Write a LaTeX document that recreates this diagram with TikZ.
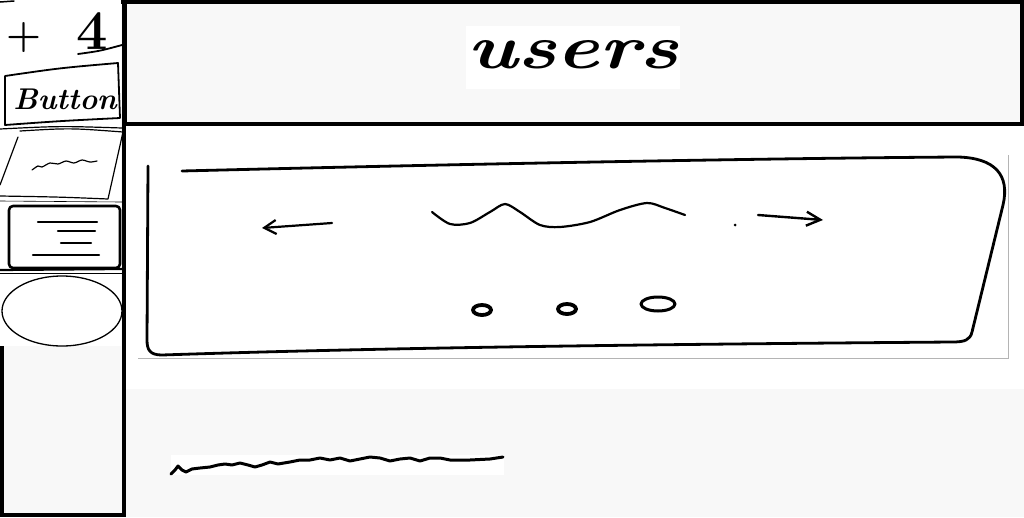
\documentclass[tikz,border=0pt]{standalone}
\usetikzlibrary{positioning,arrows.meta,calc}
\definecolor{paper}{HTML}{F8F8F8}
\definecolor{ink}{HTML}{000000}
\definecolor{edge}{HTML}{B4B4B4}
\tikzset{
  panel/.style={fill=paper,outer sep=0pt,inner sep=0pt},
  sheet/.style={fill=white,outer sep=0pt,inner sep=0pt},
  pen/.style={draw=ink,line width=#1,line cap=round,line join=round},
  pen/.default=1.4pt,
  hand/.style={text=ink,inner sep=0pt,font=\itshape}
}

\begin{document}
\begin{tikzpicture}[x=1pt,y=-1pt]
\useasboundingbox (0,0) rectangle (1024,517);
\fill[white] (0,0) rectangle (1024,517);
% frames
\node[panel,draw=ink,line width=4pt,minimum width=122pt,minimum height=513pt] (sidebar) at (63,258.5){};
\node[panel,draw=ink,line width=4pt,minimum width=897pt,minimum height=122pt] (header) at (573.5,63){};
\node[sheet,minimum width=121pt,minimum height=346pt] (palette) at (60.5,173){};
\node[sheet,minimum width=214pt,minimum height=63pt] (titlebox) at (573,57.5){};
\node[hand,font=\fontsize{62}{62}\selectfont\itshape\bfseries] (title) at (573,55){\scalebox{1.3}[1]{users}};
\node[sheet,minimum width=870pt,minimum height=203pt] (canvas) at (573,256.5){};
\draw[edge,line width=1pt] (canvas.north east)--(canvas.south east)--(canvas.south west);
\node[panel,minimum width=898pt,minimum height=128pt] (footer) at (575,453){};
\node[sheet,minimum width=333pt,minimum height=20pt] (strip) at (337.5,465){};
% palette sketches
\draw[pen=1.5pt] (0,2)--(14,1);
\node[hand,font=\fontsize{40}{40}\selectfont\bfseries] (plus) at (24,38){+};
\node[hand,font=\fontsize{56}{56}\selectfont\bfseries] (four) at (92,31){4};
\draw[pen=1.8pt] (78,54) .. controls (100,51) .. (122,45);
\draw[pen=1.8pt] (5,76) .. controls (60,68) .. (118,63) -- (120,118) .. controls (60,121) .. (5,125) -- cycle;
\node[hand,font=\fontsize{30}{30}\selectfont\itshape\bfseries] (button) at (65,99){Button};
\draw[pen=1.2pt] (0,129) .. controls (60,126) .. (122,128);
\draw[pen=1.2pt] (20,131) .. controls (70,128) .. (123,132) -- (108,199) .. controls (60,197) .. (0,196);
\draw[pen=1.2pt] (18,137)--(0,185);
\draw[pen=1.2pt] plot[smooth] coordinates {(32,170) (38,166) (42,167) (50,163) (58,164) (66,161) (74,163) (82,160) (90,162) (97,161)};
\draw[pen=0.6pt] (0,201)--(122,202);
\draw[pen=2.6pt,rounded corners=4pt] (9,206) rectangle (120,268);
\draw[pen=2.2pt] (0,270)--(122,269);
\draw[pen=0.6pt] (0,273)--(122,273);
\foreach \ya/\xa/\xb in {222/38/97, 231/58/95, 243/61/91, 255/33/99}
  \draw[pen=2.2pt] (\xa,\ya)--(\xb,\ya);
\draw[pen=1.3pt] (62,311) ellipse [x radius=60, y radius=35];
% canvas sketch
\draw[pen=2.8pt] (182,171) .. controls (500,163) and (800,158) .. (958,157) .. controls (995,158) and (1010,175) .. (1003,205) -- (972,332) .. controls (970,340) and (965,342) .. (952,342) .. controls (700,344) and (400,347) .. (162,355) .. controls (150,355) and (147,350) .. (147,340) -- (148,166);
\coordinate (lefttail) at (332,223);
\coordinate (lefthead) at (262,228);
\draw[pen=2.2pt,-{Straight Barb[length=12pt,width=14pt]}] (lefttail)--(lefthead);
\draw[pen=2.2pt] plot[smooth] coordinates {(432,212) (450,224) (470,223) (490,212) (505,204) (520,212) (540,225) (560,227) (590,222) (620,210) (647,203) (665,208) (685,215)};
\fill[ink] (735,225) circle (1.5pt);
\coordinate (righttail) at (758,215);
\coordinate (righthead) at (823,220);
\draw[pen=2.4pt,-{Straight Barb[length=14pt,width=14pt]}] (righttail)--(righthead);
\draw[pen=3.8pt] (482,310) ellipse [x radius=9, y radius=5];
\draw[pen=3.8pt] (567,309) ellipse [x radius=9, y radius=5];
\draw[pen=3pt] (658,304) ellipse [x radius=17, y radius=7];
% footer squiggle
\draw[pen=3pt] plot coordinates {(171,474) (175,470) (178,466) (182,470) (186,472) (192,469) (200,468) (210,467) (218,465) (225,464) (232,465) (240,463) (248,465) (255,467) (262,465) (270,462) (278,464) (290,462) (300,460) (310,460) (320,458) (330,460) (340,458) (350,461) (360,459) (370,457) (380,458) (390,461) (400,459) (410,458) (420,461) (430,458) (440,458) (450,460) (470,460) (490,459) (503,457)};
\end{tikzpicture}
\end{document}
